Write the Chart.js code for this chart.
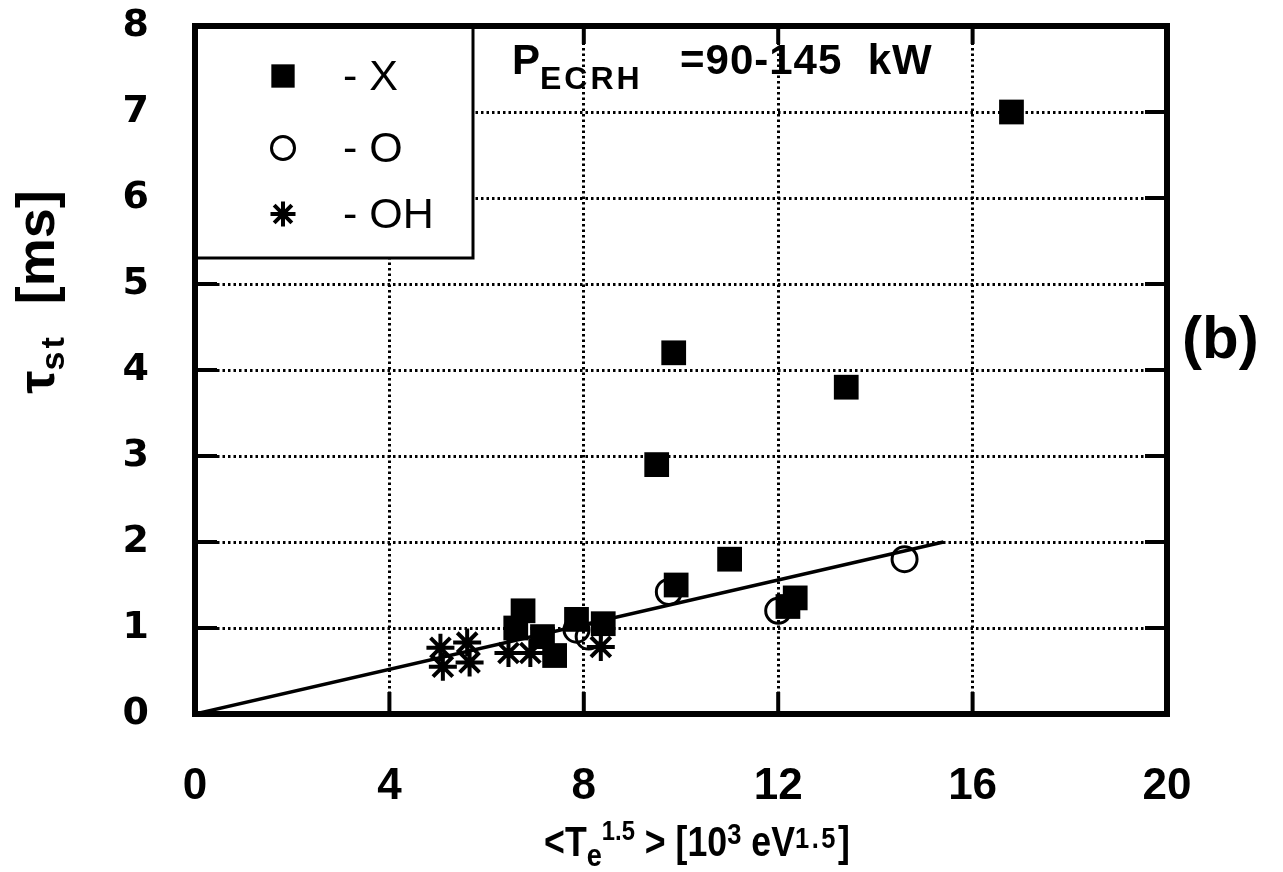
<!DOCTYPE html>
<html><head><meta charset="utf-8">
<script src="https://cdn.jsdelivr.net/npm/chart.js@4/dist/chart.umd.min.js"></script>
<style>html,body{margin:0;padding:0;background:#fff;}canvas{display:block;}</style>
</head><body>
<canvas id="c" width="1283" height="872"></canvas>
<script>
// ---- data ----
const seriesLabels = ['X', 'O', 'OH'];
const modeX_x = [16.8, 9.85, 9.5, 13.4, 11.0, 9.9, 12.35, 12.2, 6.75, 6.6, 7.15, 7.4, 7.85, 8.4];
const modeX_y = [7.0, 4.2, 2.9, 3.8, 1.8, 1.5, 1.35, 1.25, 1.2, 1.0, 0.9, 0.68, 1.1, 1.05];
const modeO_x = [14.6, 12.0, 9.75, 7.85, 8.1];
const modeO_y = [1.8, 1.2, 1.42, 0.98, 0.9];
const modeOH_x = [5.05, 5.6, 5.1, 5.65, 6.45, 6.9, 8.35];
const modeOH_y = [0.77, 0.83, 0.55, 0.6, 0.71, 0.71, 0.78];
const fit_x = [0, 15.4];
const fit_y = [0, 2.0];
const xTickValues = [0, 4, 8, 12, 16, 20];
const yTickValues = [0, 1, 2, 3, 4, 5, 6, 7, 8];
const powerLabel = {main: 'P', sub: 'ECRH', rest: '=90-145  kW'};
const panelLabel = '(b)';

const pts = (xs, ys) => xs.map((x, i) => ({x: x, y: ys[i]}));

const NARROW = '"Liberation Sans Narrow", "Liberation Sans", Arial, sans-serif';
const SANS = '"Liberation Sans", Arial, sans-serif';
const WIDE = '"DejaVu Sans", sans-serif';

function drawRuns(ctx, runs, x, y, align) {
  let total = 0;
  runs.forEach(r => { ctx.font = r.font; ctx.letterSpacing = (r.ls || 0) + 'px'; r.w = ctx.measureText(r.t).width; total += r.w; });
  let cx = align === 'center' ? x - total / 2 : x;
  runs.forEach(r => { ctx.font = r.font; ctx.letterSpacing = (r.ls || 0) + 'px'; ctx.fillText(r.t, cx, y + (r.dy || 0)); cx += r.w; });
  ctx.letterSpacing = '0px';
}

const decor = {
  id: 'decor',
  afterDraw(chart) {
    const ctx = chart.ctx, a = chart.chartArea;
    const xs = chart.scales.x, ys = chart.scales.y;
    ctx.save();
    ctx.strokeStyle = '#000'; ctx.fillStyle = '#000';
    // inner tick marks
    ctx.lineWidth = 4;
    xTickValues.forEach(v => {
      const px = xs.getPixelForValue(v);
      ctx.beginPath(); ctx.moveTo(px, a.bottom); ctx.lineTo(px, a.bottom - 22); ctx.stroke();
      ctx.beginPath(); ctx.moveTo(px, a.top); ctx.lineTo(px, a.top + 18); ctx.stroke();
    });
    yTickValues.forEach(v => {
      const py = ys.getPixelForValue(v);
      ctx.beginPath(); ctx.moveTo(a.right, py); ctx.lineTo(a.right - 22, py); ctx.stroke();
      ctx.beginPath(); ctx.moveTo(a.left, py); ctx.lineTo(a.left + 22, py); ctx.stroke();
    });
    // legend box
    const lb = {l: a.left, t: a.top, w: 278, h: 232};
    ctx.fillStyle = '#fff';
    ctx.fillRect(lb.l, lb.t, lb.w, lb.h);
    ctx.lineWidth = 3; ctx.strokeStyle = '#000';
    ctx.strokeRect(lb.l, lb.t, lb.w, lb.h);
    const rowsY = [lb.t + 50, lb.t + 122, lb.t + 188];
    chart.data.datasets.slice(0, 3).forEach((ds, i) => {
      ctx.fillStyle = ds.backgroundColor; ctx.strokeStyle = ds.borderColor;
      ctx.lineWidth = ds.borderWidth;
      const r = ds.pointStyle === 'rect' ? 16.5 : (ds.pointStyle === 'star' ? 12.5 : 11.5);
      Chart.helpers.drawPoint(ctx, {pointStyle: ds.pointStyle, radius: r, borderWidth: ds.borderWidth, rotation: 0}, lb.l + 88, rowsY[i]);
      ctx.fillStyle = '#000';
      ctx.font = '43px ' + SANS; ctx.textBaseline = 'middle'; ctx.textAlign = 'left';
      ctx.fillText('- ' + ds.label, lb.l + 148, rowsY[i] + 2);
    });
    // frame
    ctx.strokeStyle = '#000'; ctx.lineWidth = 6;
    ctx.strokeRect(a.left, a.top, a.right - a.left, a.bottom - a.top);
    // annotation P_ECRH
    ctx.fillStyle = '#000'; ctx.textBaseline = 'alphabetic'; ctx.textAlign = 'left';
    drawRuns(ctx, [
      {t: powerLabel.main, font: 'bold 42px ' + SANS},
      {t: powerLabel.sub, font: 'bold 32px ' + SANS, dy: 15, ls: 3}
    ], a.left + 317, a.top + 48, 'left');
    ctx.font = 'bold 42px ' + SANS; ctx.letterSpacing = '1px';
    ctx.fillText(powerLabel.rest, a.left + 485, a.top + 48);
    ctx.letterSpacing = '0px';
    // panel label
    ctx.font = 'bold 60px ' + SANS;
    ctx.fillText(panelLabel, a.right + 15, 358);
    // x axis title (condensed)
    ctx.save();
    ctx.translate(697, 856);
    ctx.scale(0.85, 1);
    drawRuns(ctx, [
      {t: '<T', font: 'bold 42px ' + NARROW},
      {t: 'e', font: 'bold 32px ' + NARROW, dy: 10},
      {t: '1.5', font: 'bold 28px ' + NARROW, dy: -16},
      {t: ' > [10', font: 'bold 42px ' + NARROW},
      {t: '3', font: 'bold 30px ' + NARROW, dy: -12},
      {t: ' eV', font: 'bold 42px ' + NARROW},
      {t: '1.5', font: 'bold 30px ' + NARROW, dy: -8, ls: 3},
      {t: ']', font: 'bold 42px ' + NARROW}
    ], 0, 0, 'center');
    ctx.restore();
    // y axis title
    ctx.translate(54, 292);
    ctx.rotate(-Math.PI / 2);
    drawRuns(ctx, [
      {t: 'τ', font: 'bold 52px ' + SANS},
      {t: 'st', font: 'bold 34px ' + SANS, dy: 10, ls: 3},
      {t: '  [ms]', font: 'bold 54px ' + SANS}
    ], 0, 0, 'center');
    ctx.restore();
  }
};

const gridOpts = {color: '#000', lineWidth: 3, drawTicks: false};

new Chart(document.getElementById('c'), {
  type: 'scatter',
  data: {
    datasets: [
      {label: seriesLabels[0], data: pts(modeX_x, modeX_y), pointStyle: 'rect', pointRadius: 17.5, pointHoverRadius: 17.5,
       backgroundColor: '#000', borderColor: '#000', borderWidth: 0, order: 0},
      {label: seriesLabels[1], data: pts(modeO_x, modeO_y), pointStyle: 'circle', pointRadius: 12.5, pointHoverRadius: 12.5,
       backgroundColor: 'rgba(0,0,0,0)', borderColor: '#000', borderWidth: 3, order: 1},
      {label: seriesLabels[2], data: pts(modeOH_x, modeOH_y), pointStyle: 'star', pointRadius: 14, pointHoverRadius: 14,
       backgroundColor: '#000', borderColor: '#000', borderWidth: 4, order: 2},
      {label: 'fit', data: pts(fit_x, fit_y), showLine: true, pointRadius: 0, borderColor: '#000', borderWidth: 3.5, order: 3}
    ]
  },
  options: {
    responsive: false,
    animation: false,
    events: [],
    layout: {padding: {top: 26, right: 116, bottom: 0, left: 0}},
    plugins: {legend: {display: false}, tooltip: {enabled: false}},
    scales: {
      x: {
        type: 'linear', min: 0, max: 20,
        afterBuildTicks: s => { s.ticks = xTickValues.map(v => ({value: v})); },
        afterFit: s => { s.height = 158; s.paddingLeft = 0; s.paddingRight = 0; },
        ticks: {color: '#000', font: {family: NARROW, size: 44, weight: 'bold'}, padding: 46, maxRotation: 0, autoSkip: false},
        grid: gridOpts,
        border: {display: false, dash: [2.5, 3]}
      },
      y: {
        type: 'linear', min: 0, max: 8,
        afterBuildTicks: s => { s.ticks = yTickValues.map(v => ({value: v})); },
        afterFit: s => { s.width = 195; s.paddingTop = 0; s.paddingBottom = 0; },
        ticks: {color: '#000', font: {family: WIDE, size: 38, weight: 'bold'}, padding: 46, autoSkip: false},
        grid: gridOpts,
        border: {display: false, dash: [2.5, 3]}
      }
    }
  },
  plugins: [decor]
});
</script>
</body></html>
